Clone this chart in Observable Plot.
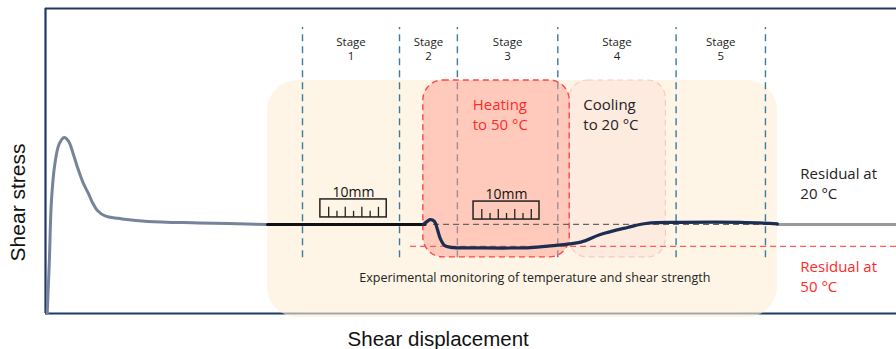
<!DOCTYPE html>
<html>
<head>
<meta charset="utf-8">
<script src="https://cdn.jsdelivr.net/npm/d3@7"></script>
<script src="https://cdn.jsdelivr.net/npm/@observablehq/plot@0.6"></script>
<style>
  html, body { margin: 0; padding: 0; background: #fff; }
  #chart svg { display: block; }
</style>
</head>
<body>
<div id="chart"></div>
<script>
// Shear stress vs. shear displacement (schematic units, 0–100 on both axes)

// Initial shearing: peak then softening to residual
const peakX = [0.2, 0.45, 0.7, 1.1, 1.6, 2.2, 2.7, 3.3, 3.76, 4.4, 5.05, 5.5, 6.1, 7.0, 8.5, 9.0, 12, 18, 26.1];
const peakY = [0, 17, 37, 49, 55.5, 57.7, 56.5, 52, 47.9, 43, 39.3, 36.5, 33.8, 32, 31.2, 31.0, 30.2, 29.7, 29.2];

// Monitored residual stage at 20 °C (stage 1)
const baseX = [26.1, 44.6];
const baseY = [29.2, 29.2];

// Heating / cooling response (stages 2–5)
const testX = [44.4, 44.9, 45.2, 45.7, 46.06, 46.4, 46.9, 47.6, 51.1, 57.0, 59.3, 62.9, 65.2, 68.4, 70.7, 74.6, 81.7, 86.0];
const testY = [29.2, 30.3, 30.8, 30.2, 27.5, 24.5, 22.3, 21.7, 21.5, 21.6, 22.2, 23.4, 25.9, 28.2, 29.6, 29.9, 29.9, 29.4];

// Continuation after the monitoring window
const tailX = [86.0, 100];
const tailY = [29.2, 29.2];

// Residual strength levels
const residual20 = 29.2;
const residual50 = 22.0;

// Stage boundaries and labels
const stageBounds = [30.2, 41.6, 48.4, 60.2, 74.1, 84.6];
const stageLabels = ["Stage\n1", "Stage\n2", "Stage\n3", "Stage\n4", "Stage\n5"];

// Shaded regions
const monitorBox = {x1: 26.1, x2: 86.0, y1: -1.3, y2: 76.4};
const heatBox = {x1: 44.4, x2: 61.6, y1: 18.4, y2: 76.4};
const coolBox = {x1: 61.6, x2: 72.9, y1: 18.4, y2: 76.4};

// 10 mm scale bars
const rulerX1 = [32.3, 50.3];
const rulerX2 = [40.1, 58.05];
const rulerY1 = [31.5, 30.8];
const rulerY2 = [37.4, 36.7];
const rulerLabel = "10mm";

const stageMids = stageLabels.map((s, i) => ({label: s, x: (stageBounds[i] + stageBounds[i + 1]) / 2}));
const rulers = rulerX1.map((x1, i) => ({x1, x2: rulerX2[i], y1: rulerY1[i], y2: rulerY2[i]}));
const rulerTicks = rulers.flatMap(r => d3.range(7).map(k => ({
  x: r.x1 + (r.x2 - r.x1) * (0.125 + k * 0.125),
  y1: r.y1,
  y2: r.y1 + (k % 2 === 0 ? 3.3 : 2.0)
})));
const pts = (xs, ys) => xs.map((x, i) => ({x, y: ys[i]}));

const sans = "'Open Sans', 'Noto Sans', sans-serif";
const axisFont = "'Liberation Sans', Arial, sans-serif";

const chart = Plot.plot({
  width: 896,
  height: 349,
  marginLeft: 45,
  marginRight: 0,
  marginTop: 8,
  marginBottom: 36,
  x: {domain: [0, 100], axis: null},
  y: {domain: [0, 100], axis: null},
  style: {fontFamily: sans, background: "#fff", overflow: "visible"},
  marks: [
    // axes frame
    Plot.ruleX([0], {stroke: "#1f3864", strokeWidth: 2.2}),
    Plot.ruleY([0, 100], {stroke: "#1f3864", strokeWidth: 2.2}),

    // shaded regions
    Plot.rect([monitorBox], {x1: "x1", x2: "x2", y1: "y1", y2: "y2", fill: "#fdeed6", fillOpacity: 0.6, rx: 30}),
    Plot.rect([coolBox], {x1: "x1", x2: "x2", y1: "y1", y2: "y2", fill: "#feebe0", stroke: "#f9c9c2", strokeWidth: 1.2, strokeDasharray: "6,4", rx: 18}),

    // stage boundaries (beneath the translucent heating panel)
    Plot.ruleX(stageBounds, {y1: 18.3, y2: 93.8, stroke: "#3a7b9e", strokeWidth: 1.4, strokeDasharray: "7,5"}),
    Plot.rect([heatBox], {x1: "x1", x2: "x2", y1: "y1", y2: "y2", fill: "#ff9f8f", fillOpacity: 0.5, stroke: "#ff4545", strokeWidth: 1.4, strokeDasharray: "6,4", rx: 20}),
    Plot.text(stageMids, {x: "x", y: 87.0, text: "label", fontSize: 11.5, lineHeight: 1.25, fill: "#222"}),

    // residual reference lines
    Plot.ruleY([residual20], {x1: 45.6, x2: 86.0, stroke: "#666", strokeWidth: 1.2, strokeDasharray: "6,4"}),
    Plot.ruleY([residual50], {x1: 42.9, x2: 100, stroke: "#ff5a5a", strokeWidth: 1.2, strokeDasharray: "6,4"}),

    // scale bars
    Plot.rect(rulers, {x1: "x1", x2: "x2", y1: "y1", y2: "y2", fill: "none", stroke: "#222", strokeWidth: 1.5}),
    Plot.ruleX(rulerTicks, {x: "x", y1: "y1", y2: "y2", stroke: "#222", strokeWidth: 1.3}),
    Plot.text(rulers, {x: d => (d.x1 + d.x2) / 2, y: d => d.y2 + 2.3, text: () => rulerLabel, fontSize: 14, fill: "#111"}),

    // stress curves
    Plot.line(pts(peakX, peakY), {x: "x", y: "y", stroke: "#76849a", strokeWidth: 3, curve: "catmull-rom"}),
    Plot.line(pts(tailX, tailY), {x: "x", y: "y", stroke: "#9a9a9a", strokeWidth: 3}),
    Plot.line(pts(baseX, baseY), {x: "x", y: "y", stroke: "#111", strokeWidth: 3}),
    Plot.line(pts(testX, testY), {x: "x", y: "y", stroke: "#1c2d52", strokeWidth: 3.2, curve: "catmull-rom"}),

    // annotations
    Plot.text(["Heating\nto 50 °C"], {x: 50.2, y: 65.6, textAnchor: "start", fontSize: 15, lineHeight: 1.35, fill: "#ff2a2a"}),
    Plot.text(["Cooling\nto 20 °C"], {x: 63.2, y: 65.6, textAnchor: "start", fontSize: 15, lineHeight: 1.35, fill: "#222"}),
    Plot.text(["Residual at\n20 °C"], {x: 88.7, y: 43.0, textAnchor: "start", fontSize: 15, lineHeight: 1.35, fill: "#222"}),
    Plot.text(["Residual at\n50 °C"], {x: 88.7, y: 12.5, textAnchor: "start", fontSize: 15, lineHeight: 1.35, fill: "#ff2a2a"}),
    Plot.text(["Experimental monitoring of temperature and shear strength"], {x: 57.5, y: 11.5, fontSize: 12.5, fill: "#222"}),

    // axis titles
    Plot.text(["Shear stress"], {frameAnchor: "left", y: 36.4, dx: -27, rotate: -90, textAnchor: "middle", lineAnchor: "middle", fontSize: 21, fill: "#111", fontFamily: axisFont}),
    Plot.text(["Shear displacement"], {x: 35.5, frameAnchor: "bottom", dy: 26, textAnchor: "start", lineAnchor: "middle", fontSize: 20.5, fill: "#111", fontFamily: axisFont})
  ]
});

document.getElementById("chart").append(chart);
</script>
</body>
</html>
